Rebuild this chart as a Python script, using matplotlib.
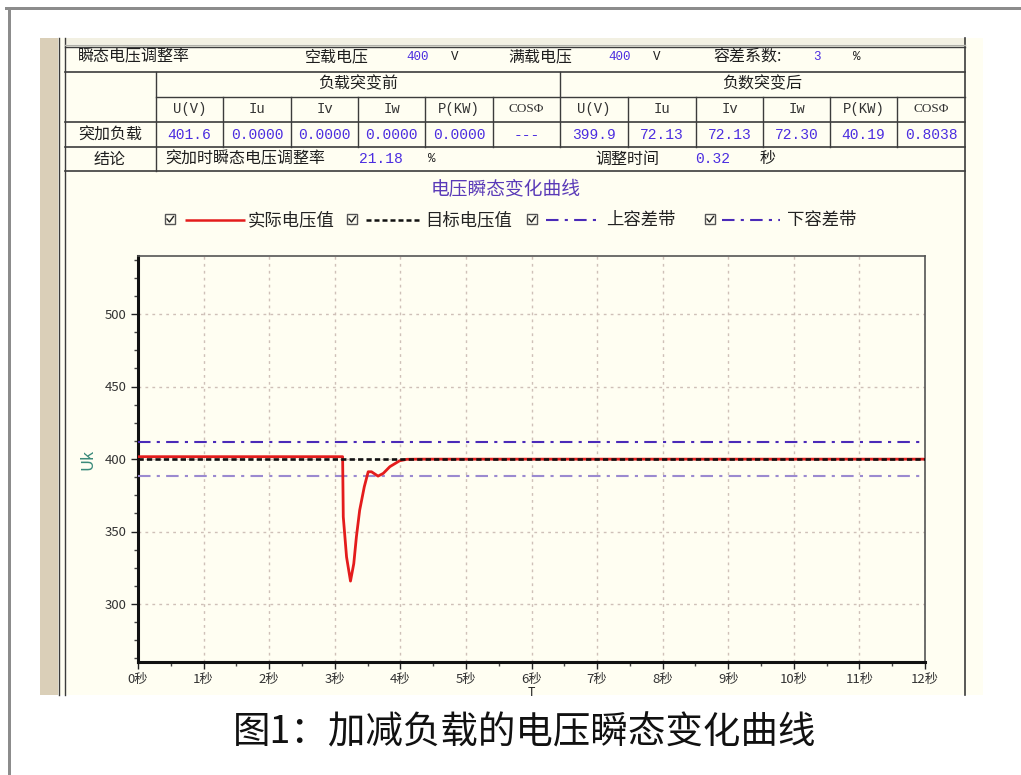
import matplotlib
matplotlib.use("Agg")
import matplotlib.pyplot as plt
from matplotlib.patches import Rectangle
from matplotlib.ticker import MultipleLocator

plt.rcParams['font.family'] = ['Noto Sans CJK SC', 'DejaVu Sans']

# ---------------- data ----------------
time_s = [0, 3.12, 3.13, 3.18, 3.24, 3.29, 3.33, 3.38, 3.45, 3.51, 3.56, 3.66,
          3.74, 3.84, 3.99, 4.10, 4.30, 12]
actual_v = [401.6, 401.6, 360.1, 332.4, 315.8, 327.8, 346.3, 364.7, 380.8, 391.2,
            391.2, 388.2, 390.1, 394.7, 398.8, 399.8, 399.9, 399.9]
target_v = 400
upper_band = 412
lower_band = 388
x_ticks = list(range(0, 13))
x_tick_labels = [f"{t}秒" for t in x_ticks]
y_ticks = [300, 350, 400, 450, 500]

header_cols = ["U(V)", "Iu", "Iv", "Iw", "P(KW)", "COSΦ",
               "U(V)", "Iu", "Iv", "Iw", "P(KW)", "COSΦ"]
row_values = ["401.6", "0.0000", "0.0000", "0.0000", "0.0000", "---",
              "399.9", "72.13", "72.13", "72.30", "40.19", "0.8038"]
no_load_v = "400"
full_load_v = "400"
tolerance_pct = "3"
transient_rate = "21.18"
adjust_time = "0.32"

legend_labels = ["实际电压值", "目标电压值", "上容差带", "下容差带"]

# ---------------- figure ----------------
W, H = 1021, 775
fig = plt.figure(figsize=(W / 100, H / 100), dpi=100)
fig.patch.set_facecolor('white')

bg = fig.add_axes([0, 0, 1, 1])
bg.set_xlim(0, W)
bg.set_ylim(H, 0)
bg.axis('off')

CREAM = '#fffef2'
LINE = '#3c3c3c'
BLUE = '#4b2de0'
TXT = '#1e1e1e'

# outer gray frame
bg.add_patch(Rectangle((5, 7), W, 3, color='#8c8c8c', lw=0))
bg.add_patch(Rectangle((8, 7), 3, H, color='#8c8c8c', lw=0))

# screenshot area
bg.add_patch(Rectangle((40, 38), 943, 657, color=CREAM, lw=0))
bg.add_patch(Rectangle((40, 38), 18, 657, color='#dacfb8', lw=0))
for xx in (58.5, 65):
    bg.plot([xx, xx], [38, 695], color=LINE, lw=1.0)
bg.plot([965, 965], [38, 695], color=LINE, lw=1.2)
# faint cut-off row on top
bg.add_patch(Rectangle((65, 38), 900, 6, color='#f2f0e2', lw=0))
bg.plot([65, 965], [44.5, 44.5], color='#b0b0a8', lw=1.0)
bg.plot([65, 965], [47, 47], color=LINE, lw=1.0)

# table lines
cols = [156, 223, 291, 358, 425, 493, 560, 628, 696, 763, 830, 897, 965]
bg.plot([65, 965], [71.7, 71.7], color=LINE, lw=1.2)
bg.plot([156, 965], [96.7, 96.7], color=LINE, lw=1.0)
bg.plot([65, 965], [121.7, 121.7], color=LINE, lw=1.2)
bg.plot([65, 965], [147.3, 147.3], color=LINE, lw=1.2)
bg.plot([65, 965], [170.5, 170.5], color=LINE, lw=1.2)
bg.plot([156, 156], [71.7, 170.5], color=LINE, lw=1.0)
bg.plot([560, 560], [71.7, 147.3], color=LINE, lw=1.0)
for c in cols[1:-1]:
    if c != 560:
        bg.plot([c, c], [96.7, 147.3], color=LINE, lw=1.0)

cjk = dict(fontsize=11.5, color=TXT, va='center')
mono = dict(family=['Liberation Mono', 'DejaVu Sans Mono'], va='center')

# row 1
bg.text(78, 57, "瞬态电压调整率", ha='left', **cjk)
bg.text(305, 57, "空载电压", ha='left', **cjk)
bg.text(418, 57, no_load_v, ha='center', color=BLUE, fontsize=9, **mono)
bg.text(455, 57, "V", ha='center', color=TXT, fontsize=9, **mono)
bg.text(508, 57, "满载电压", ha='left', **cjk)
bg.text(620, 57, full_load_v, ha='center', color=BLUE, fontsize=9, **mono)
bg.text(657, 57, "V", ha='center', color=TXT, fontsize=9, **mono)
bg.text(713, 57, "容差系数:", ha='left', **cjk)
bg.text(817, 57, tolerance_pct, ha='center', color=BLUE, fontsize=9, **mono)
bg.text(857, 57, "%", ha='center', color=TXT, fontsize=9, **mono)

# row 2
bg.text(358, 84, "负载突变前", ha='center', **cjk)
bg.text(762, 84, "负数突变后", ha='center', **cjk)

# row 3 headers and row 4 values
for i, (h, v) in enumerate(zip(header_cols, row_values)):
    cx = (cols[i] + cols[i + 1]) / 2
    if h.startswith("COS"):
        bg.text(cx, 109, h, ha='center', color='#333333', fontsize=9.5,
                family=['Liberation Serif', 'DejaVu Serif'], va='center')
    else:
        bg.text(cx, 109, h, ha='center', color='#333333', fontsize=10, **mono)
    bg.text(cx, 135, v, ha='center', color=BLUE, fontsize=10.5, **mono)

bg.text(110, 135, "突加负载", ha='center', **cjk)
bg.text(110, 159, "结论", ha='center', **cjk)
bg.text(165, 159, "突加时瞬态电压调整率", ha='left', **cjk)
bg.text(381, 159, transient_rate, ha='center', color=BLUE, fontsize=10.5, **mono)
bg.text(432, 159, "%", ha='center', color=TXT, fontsize=9, **mono)
bg.text(595, 159, "调整时间", ha='left', **cjk)
bg.text(713, 159, adjust_time, ha='center', color=BLUE, fontsize=10.5, **mono)
bg.text(768, 159, "秒", ha='center', **cjk)

# chart title
bg.text(506, 190, "电压瞬态变化曲线", ha='center', va='center', fontsize=13.5,
        color='#5a3ab8')

# legend (manual)
RED = '#e41c1c'
UPC = '#4a2ab8'
LOC = '#9b8ad0'
leg_items = [
    (170, 185, 245, 248, dict(color=RED, lw=1.8, ls='-')),
    (352, 366, 420, 425, dict(color='#111111', lw=1.8, ls=(0, (2, 1.2)))),
    (532, 546, 600, 606, dict(color=UPC, lw=1.5, ls=(0, (6, 3, 1.5, 3)))),
    (710, 722, 780, 787, dict(color=UPC, lw=1.5, ls=(0, (6, 3, 1.5, 3)))),
]
for (cbx, l0, l1, tx, style), lab in zip(leg_items, legend_labels):
    bg.add_patch(Rectangle((cbx - 5, 214), 10, 10, fill=False, ec='#555555', lw=1))
    bg.plot([cbx - 3, cbx - 0.5, cbx + 3.5], [219, 222, 216.5], color='#222222', lw=1)
    bg.plot([l0, l1], [220, 220], solid_capstyle='butt', dash_capstyle='butt', **style)
    bg.text(tx, 220, lab, ha='left', va='center', fontsize=12.5, color='#222222')

# caption
bg.text(525, 733, "图1：加减负载的电压瞬态变化曲线", ha='center', va='center',
        fontsize=27, color='#111111')

# ---------------- plot axes ----------------
L, R, T, B = 138, 925, 256, 662
ax = fig.add_axes([L / W, (H - B) / H, (R - L) / W, (B - T) / H])
ax.set_facecolor(CREAM)
ax.set_xlim(0, 12)
ax.set_ylim(260, 540)

ax.set_xticks(x_ticks)
ax.set_xticklabels(x_tick_labels)
ax.set_yticks(y_ticks)
ax.xaxis.set_minor_locator(MultipleLocator(0.5))
ax.yaxis.set_minor_locator(MultipleLocator(12.5))
ax.tick_params(axis='both', which='major', length=5, width=1, color='#222222',
               labelsize=9.5, labelcolor='#333333', pad=3)
ax.tick_params(axis='both', which='minor', length=3, width=1, color='#444444')

for s in ('left', 'bottom'):
    ax.spines[s].set_linewidth(2.2)
    ax.spines[s].set_color('#111111')
for s in ('top', 'right'):
    ax.spines[s].set_linewidth(1.2)
    ax.spines[s].set_color('#555555')

ax.grid(True, which='major', color='#cfc0b8', lw=1.0, ls=(0, (2, 3)))
ax.set_axisbelow(True)

ax.axhline(upper_band, color=UPC, lw=1.5, ls=(0, (6, 3, 1.5, 3)), zorder=3)
ax.axhline(lower_band, color=LOC, lw=1.5, ls=(0, (6, 3, 1.5, 3)), zorder=3)
ax.plot(time_s, actual_v, color=RED, lw=2.0, zorder=4)
ax.axhline(target_v, color='#111111', lw=1.9, ls=(0, (2, 1.2)), zorder=5)

ax.set_ylabel("Uk", fontsize=12, color='#3a8a7a', labelpad=6)
ax.set_xlabel("T", fontsize=9, color='#222222', labelpad=0)

fig.savefig("out.png", dpi=100, facecolor='white')
